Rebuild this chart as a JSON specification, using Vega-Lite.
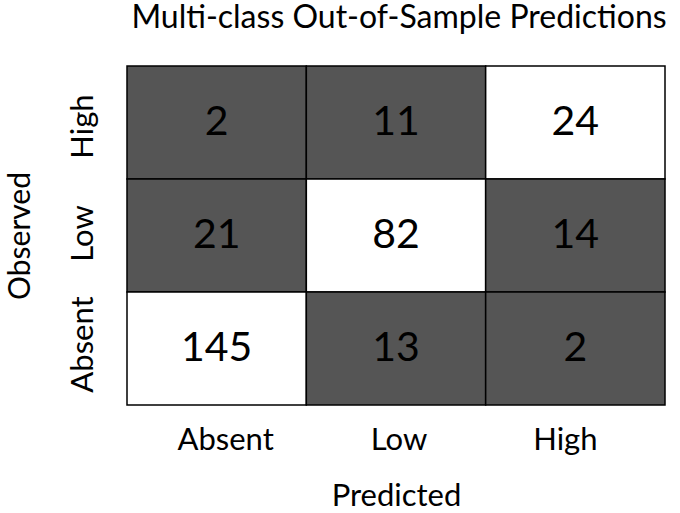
{
  "$schema": "https://vega.github.io/schema/vega-lite/v6.json",
  "width": 538,
  "height": 339,
  "autosize": {"type": "none"},
  "padding": {"left": 127, "top": 66, "right": 15, "bottom": 108},
  "background": "white",
  "config": {
    "font": "Lato",
    "view": {"stroke": null}
  },
  "title": {
    "text": "Multi-class Out-of-Sample Predictions",
    "font": "Lato",
    "fontSize": 32,
    "fontWeight": "normal",
    "color": "black",
    "baseline": "alphabetic",
    "anchor": "middle",
    "offset": 5,
    "dx": 3
  },
  "data": {
    "values": [
      {"Predicted": "Absent", "Observed": "High", "count": 2},
      {"Predicted": "Low", "Observed": "High", "count": 11},
      {"Predicted": "High", "Observed": "High", "count": 24},
      {"Predicted": "Absent", "Observed": "Low", "count": 21},
      {"Predicted": "Low", "Observed": "Low", "count": 82},
      {"Predicted": "High", "Observed": "Low", "count": 14},
      {"Predicted": "Absent", "Observed": "Absent", "count": 145},
      {"Predicted": "Low", "Observed": "Absent", "count": 13},
      {"Predicted": "High", "Observed": "Absent", "count": 2}
    ]
  },
  "encoding": {
    "x": {
      "field": "Predicted",
      "type": "nominal",
      "sort": ["Absent", "Low", "High"],
      "scale": {"paddingInner": 0, "paddingOuter": 0},
      "axis": {
        "labelAngle": 0,
        "domain": false,
        "ticks": false,
        "tickSize": 0,
        "labelFont": "Lato",
        "labelFontSize": 31,
        "labelColor": "black",
        "labelBaseline": "alphabetic",
        "labelPadding": 44,
        "labelOffset": {
          "condition": [
            {"test": "datum.value === 'Absent'", "value": 9},
            {"test": "datum.value === 'Low'", "value": 3}
          ],
          "value": -10
        },
        "title": "Predicted",
        "titleFont": "Lato",
        "titleFontSize": 31,
        "titleFontWeight": "normal",
        "titleColor": "black",
        "titleBaseline": "alphabetic",
        "titleY": 100
      }
    },
    "y": {
      "field": "Observed",
      "type": "nominal",
      "sort": ["High", "Low", "Absent"],
      "scale": {"paddingInner": 0, "paddingOuter": 0},
      "axis": {
        "labelAngle": -90,
        "labelAlign": "center",
        "labelBaseline": "alphabetic",
        "domain": false,
        "ticks": false,
        "tickSize": 0,
        "labelFont": "Lato",
        "labelFontSize": 31,
        "labelColor": "black",
        "labelPadding": 35,
        "labelOffset": {
          "condition": [
            {"test": "datum.value === 'High'", "value": 4},
            {"test": "datum.value === 'Low'", "value": -2}
          ],
          "value": -4
        },
        "title": "Observed",
        "titleFont": "Lato",
        "titleFontSize": 30,
        "titleFontWeight": "normal",
        "titleColor": "black",
        "titleBaseline": "alphabetic",
        "titleAngle": -90,
        "titleX": -98
      }
    }
  },
  "layer": [
    {
      "mark": {"type": "rect", "stroke": "black", "strokeWidth": 1.5},
      "encoding": {
        "color": {
          "condition": {"test": "datum.Predicted === datum.Observed", "value": "white"},
          "value": "#555555"
        }
      }
    },
    {
      "mark": {"type": "text", "font": "Lato", "fontSize": 41, "color": "black", "baseline": "middle", "align": "center"},
      "encoding": {
        "text": {"field": "count", "type": "quantitative"}
      }
    }
  ]
}
